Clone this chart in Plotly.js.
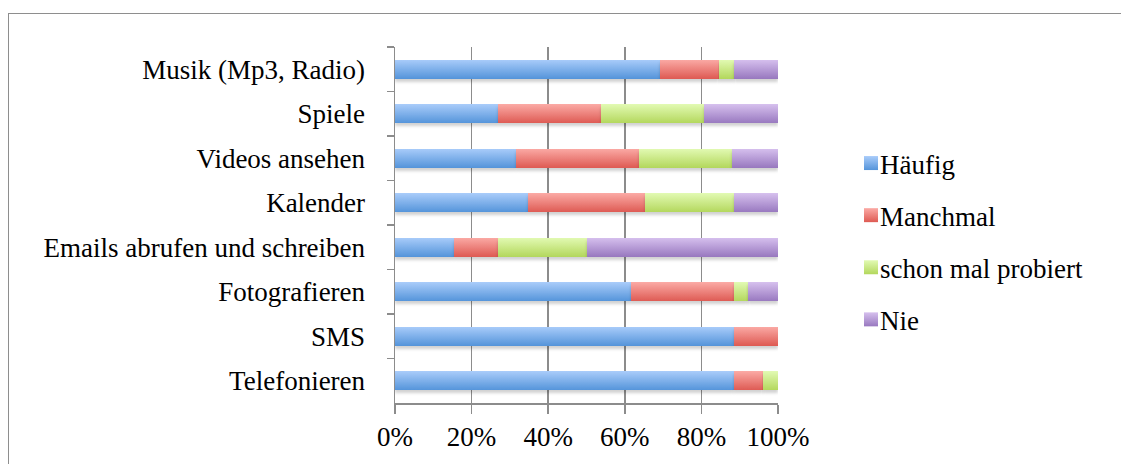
<!DOCTYPE html>
<html>
<head>
<meta charset="utf-8">
<script src="https://cdn.plot.ly/plotly-3.0.1.min.js"></script>
<style>
html,body{margin:0;padding:0;background:#fff;overflow:hidden;}
#chart{width:1121px;height:464px;position:absolute;left:0;top:0;}
#frame{position:absolute;left:8px;top:13px;width:1200px;height:600px;border:1.5px solid #8e8e8e;pointer-events:none;}
</style>
</head>
<body>
<div id="chart"></div>
<div id="frame"></div>
<script>
// Categories, top to bottom
const categories = ["Musik (Mp3, Radio)", "Spiele", "Videos ansehen", "Kalender",
  "Emails abrufen und schreiben", "Fotografieren", "SMS", "Telefonieren"];
const seriesNames = ["Häufig", "Manchmal", "schon mal probiert", "Nie"];
// Shares in percent
const haeufig   = [69.2, 26.9, 31.6, 34.6, 15.4, 61.5, 88.5, 88.5];
const manchmal  = [15.4, 26.9, 32.1, 30.8, 11.5, 26.9, 11.5,  7.7];
const probiert  = [ 3.8, 26.9, 24.3, 23.1, 23.1,  3.8,  0.0,  3.8];
const nie       = [11.6, 19.3, 12.0, 11.5, 50.0,  7.8,  0.0,  0.0];
const xTicks = [0, 20, 40, 60, 80, 100];
const xTickText = ["0%", "20%", "40%", "60%", "80%", "100%"];

const colors = ["#7aaeea", "#ec7e78", "#cbe888", "#b79bd6"];
const grads = [["#a9ccfa", "#5494da"], ["#fbaaa5", "#de5a53"], ["#e2fab3", "#b3d75c"], ["#d6c0ee", "#9878bf"]];
const values = [haeufig, manchmal, probiert, nie];

const traces = values.map((v, i) => ({
  type: "bar", orientation: "h",
  name: seriesNames[i], x: v, y: categories,
  legendgroup: "g" + i,
  marker: {color: colors[i], line: {width: 0}},
  width: 0.43,
  hoverinfo: "skip"
}));

const font = "'Liberation Serif', 'DejaVu Serif', serif";
const layout = {
  width: 1121, height: 464,
  margin: {l: 395, r: 343, t: 47, b: 61},
  paper_bgcolor: "rgba(0,0,0,0)", plot_bgcolor: "rgba(0,0,0,0)",
  barmode: "stack",
  font: {family: font, size: 27, color: "#000"},
  xaxis: {
    range: [0, 100], tickvals: xTicks, ticktext: xTickText,
    showgrid: true, gridcolor: "#8c8c8c", gridwidth: 1.5,
    showline: true, linecolor: "#8c8c8c", linewidth: 1.5,
    ticks: "outside", ticklen: 9, tickcolor: "#8c8c8c", tickwidth: 1.5,
    tickfont: {family: font, size: 27}, zeroline: false, fixedrange: true
  },
  yaxis: {
    autorange: "reversed", type: "category",
    showline: true, linecolor: "#8c8c8c", linewidth: 1.5,
    ticks: "outside", tickson: "boundaries", ticklen: 7, tickcolor: "#8c8c8c", tickwidth: 1.5,
    tickfont: {family: font, size: 27}, showgrid: false, fixedrange: true,
    ticklabelstandoff: 23
  },
  legend: {
    xref: "paper", traceorder: "grouped", tracegroupgap: 14,
    font: {family: font, size: 27}, itemwidth: 30, yanchor: "top"
  },
  showlegend: true
};
// legend position in paper coords
layout.legend.x = (840 - 395) / 383;
layout.legend.y = 1 - (139 - 47) / 356;

Plotly.newPlot("chart", traces, layout, {displayModeBar: false, staticPlot: true}).then(gd => {
  const svg = gd.querySelector("svg.main-svg");
  const NS = "http://www.w3.org/2000/svg";
  let defs = svg.querySelector("defs");
  if (!defs) { defs = document.createElementNS(NS, "defs"); svg.insertBefore(defs, svg.firstChild); }
  grads.forEach((g, i) => {
    const lg = document.createElementNS(NS, "linearGradient");
    lg.setAttribute("id", "bargrad" + i);
    lg.setAttribute("x1", "0"); lg.setAttribute("y1", "0");
    lg.setAttribute("x2", "0"); lg.setAttribute("y2", "1");
    [[0, g[0]], [1, g[1]]].forEach(([o, c]) => {
      const s = document.createElementNS(NS, "stop");
      s.setAttribute("offset", o); s.setAttribute("stop-color", c);
      lg.appendChild(s);
    });
    defs.appendChild(lg);
  });
  const f = document.createElementNS(NS, "filter");
  f.setAttribute("id", "barshadow");
  f.setAttribute("x", "-5%"); f.setAttribute("y", "-20%");
  f.setAttribute("width", "110%"); f.setAttribute("height", "160%");
  f.innerHTML = '<feDropShadow dx="0" dy="3" stdDeviation="1.5" flood-color="#000" flood-opacity="0.18"/>';
  defs.appendChild(f);
  gd.querySelectorAll(".barlayer .trace.bars").forEach((t, i) => {
    t.querySelectorAll("path").forEach(p => {
      p.style.fill = "url(#bargrad" + i + ")";
      p.style.filter = "url(#barshadow)";
    });
  });
  gd.querySelectorAll(".legend .traces").forEach((t, i) => {
    const lp = t.querySelector(".legendpoints");
    if (lp) lp.setAttribute("transform", "translate(11,0)");
    t.querySelectorAll(".legendpoints path").forEach(p => {
      p.style.fill = "url(#bargrad" + i + ")";
      p.setAttribute("d", "M7,7H-7V-7H7Z");
    });
  });
});
</script>
</body>
</html>
